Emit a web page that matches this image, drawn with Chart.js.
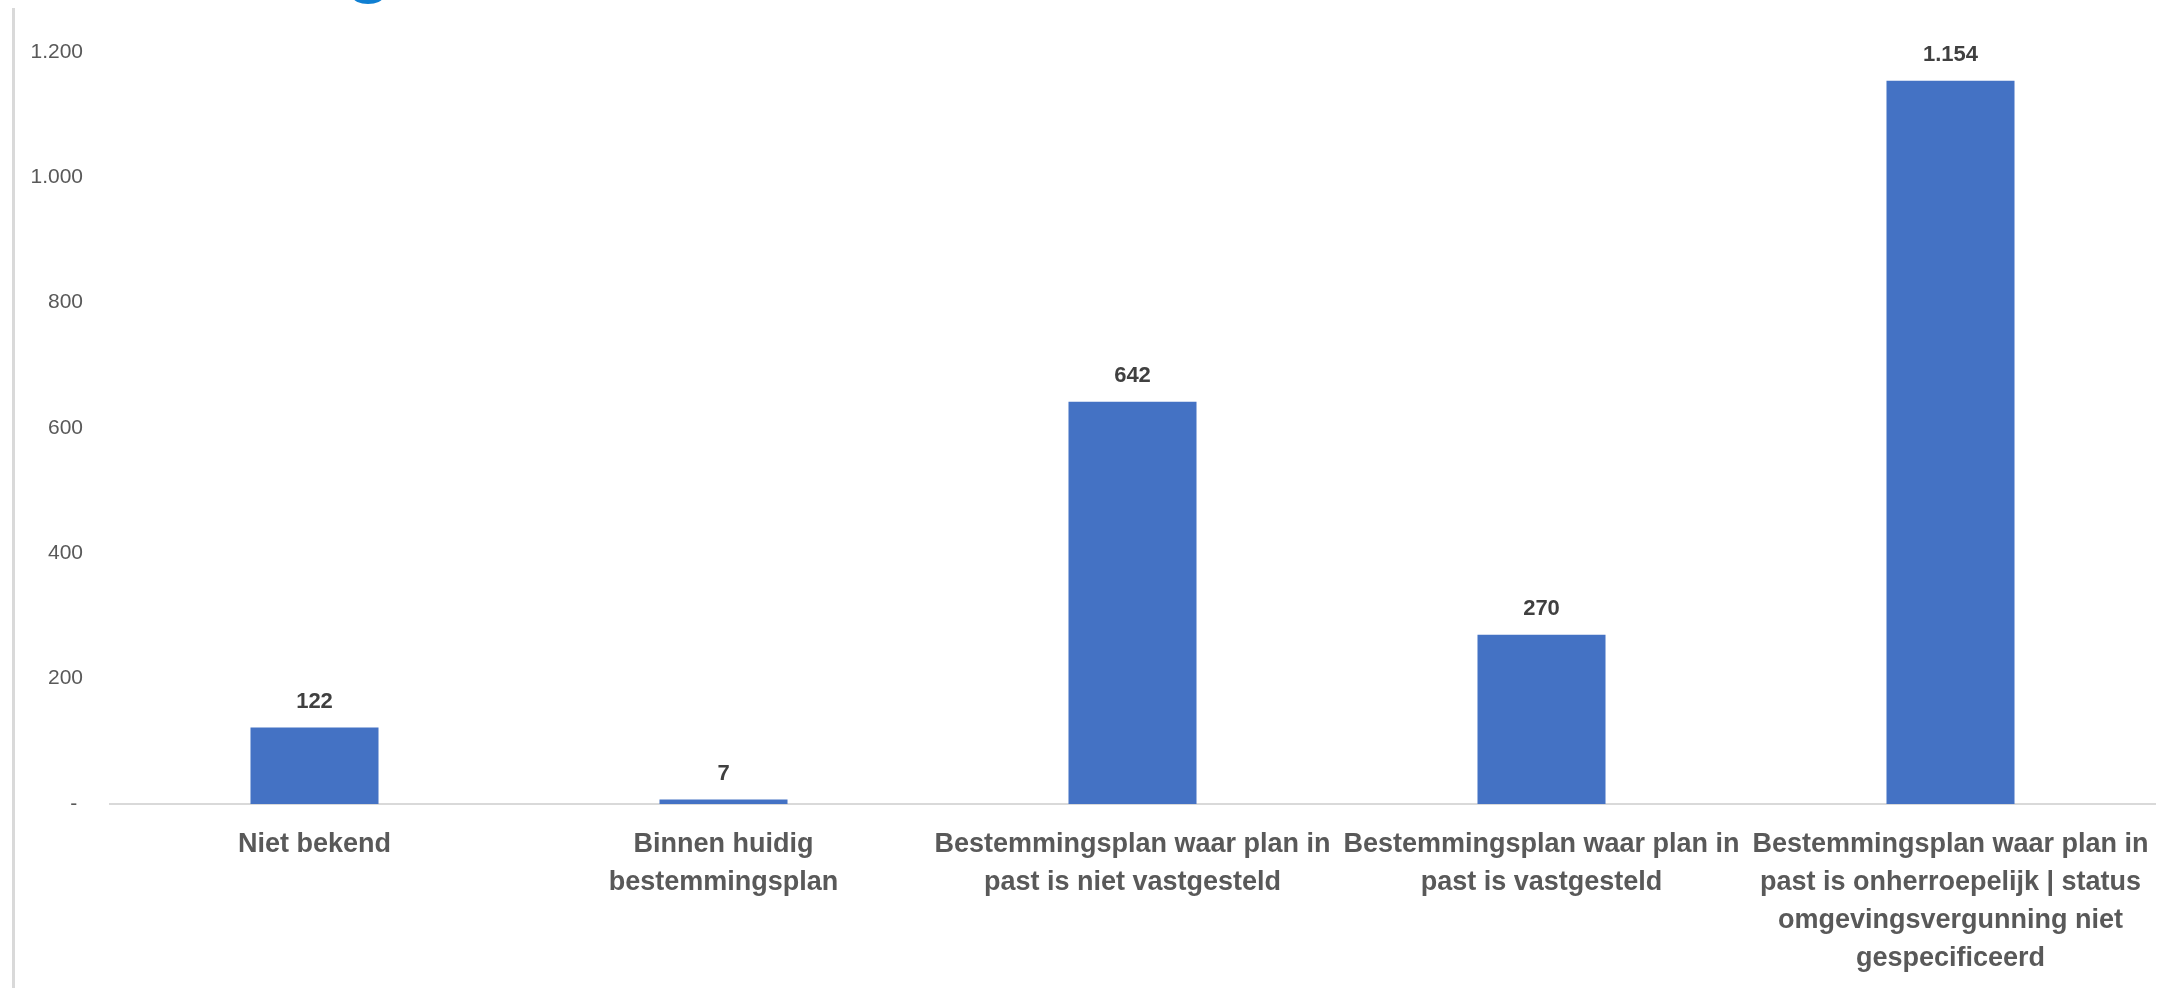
<!DOCTYPE html>
<html>
<head>
<meta charset="utf-8">
<script src="https://cdn.jsdelivr.net/npm/chart.js@4"></script>
<style>
  html, body { margin: 0; padding: 0; background: #ffffff; }
  #wrap { position: relative; width: 2179px; height: 988px; overflow: hidden; background: #ffffff; }
  #frame { position: absolute; left: 12px; top: 8px; width: 3px; height: 980px; background: #d9d9d9; }
  #logo { position: absolute; left: 353px; top: -10px; width: 30px; height: 14px; border-radius: 50%; background: #0f7fd2; }
  canvas { position: absolute; left: 0; top: 0; }
</style>
</head>
<body>
<div id="wrap">
  <div id="frame"></div>
  <div id="logo"></div>
  <canvas id="c" width="2179" height="988"></canvas>
</div>
<script>
// ---- data ----
const categories = [
  ["Niet bekend"],
  ["Binnen huidig", "bestemmingsplan"],
  ["Bestemmingsplan waar plan in", "past is niet vastgesteld"],
  ["Bestemmingsplan waar plan in", "past is vastgesteld"],
  ["Bestemmingsplan waar plan in", "past is onherroepelijk | status", "omgevingsvergunning niet", "gespecificeerd"]
];
const values = [122, 7, 642, 270, 1154];
const yTicks = [0, 200, 400, 600, 800, 1000, 1200];

function fmtNL(v) {
  if (v === 0) return "- ";
  return String(v).replace(/\B(?=(\d{3})+(?!\d))/g, ".");
}

const valueLabels = {
  id: 'valueLabels',
  afterDatasetsDraw(chart) {
    const ctx = chart.ctx;
    const meta = chart.getDatasetMeta(0);
    ctx.save();
    ctx.font = 'bold 22px "Liberation Sans", Arial, sans-serif';
    ctx.fillStyle = '#404040';
    ctx.textAlign = 'center';
    ctx.textBaseline = 'middle';
    meta.data.forEach((bar, i) => {
      ctx.fillText(fmtNL(values[i]), bar.x, bar.y - 26);
    });
    ctx.restore();
  }
};

new Chart(document.getElementById('c'), {
  type: 'bar',
  data: {
    labels: categories,
    datasets: [{
      data: values,
      backgroundColor: '#4472c4',
      borderWidth: 0,
      categoryPercentage: 1.0,
      barPercentage: 0.313
    }]
  },
  options: {
    responsive: false,
    animation: false,
    layout: { padding: { left: 0, right: 24, top: 52, bottom: 0 } },
    plugins: { legend: { display: false }, tooltip: { enabled: false } },
    scales: {
      x: {
        grid: { display: false, drawTicks: false },
        border: { display: true, color: '#d9d9d9', width: 2 },
        ticks: {
          color: '#595959',
          padding: 22,
          maxRotation: 0,
          autoSkip: false,
          font: { family: '"Liberation Sans", Arial, sans-serif', size: 27, weight: 'bold', lineHeight: '38px' }
        },
        afterFit(scale) { scale.height = 184; }
      },
      y: {
        min: 0,
        max: 1200,
        afterBuildTicks(scale) { scale.ticks = yTicks.map(v => ({ value: v })); },
        grid: { display: false, drawTicks: false },
        border: { display: false },
        ticks: {
          color: '#595959',
          padding: 27,
          font: { family: '"Liberation Sans", Arial, sans-serif', size: 21 },
          callback: (v) => fmtNL(v)
        },
        afterFit(scale) { scale.width = 110; }
      }
    }
  },
  plugins: [valueLabels]
});
</script>
</body>
</html>
